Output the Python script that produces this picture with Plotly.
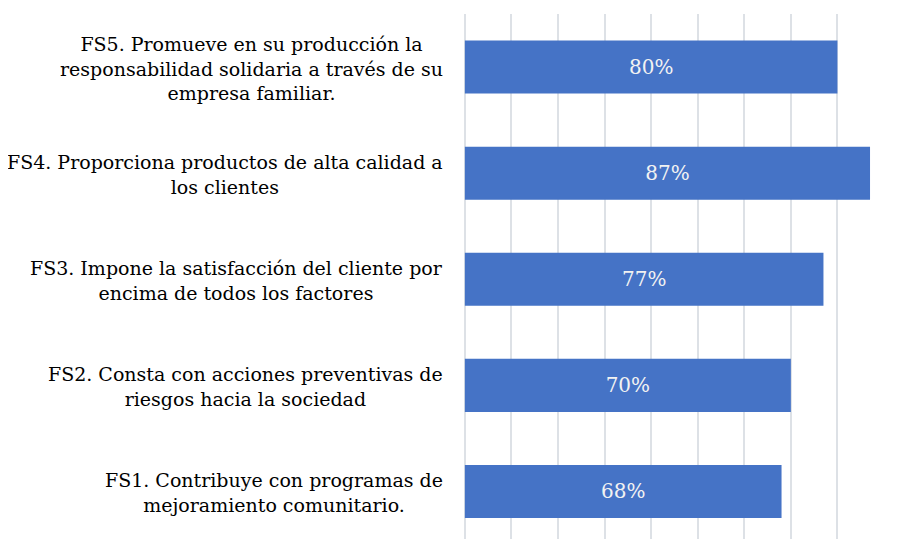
import plotly.graph_objects as go

categories = ["FS1", "FS2", "FS3", "FS4", "FS5"]
values = [0.68, 0.70, 0.77, 0.87, 0.80]
labels = [
    "FS1. Contribuye con programas de<br>mejoramiento comunitario.",
    "FS2. Consta con acciones preventivas de<br>riesgos hacia la sociedad",
    "FS3. Impone la satisfacción del cliente por<br>encima de todos los factores",
    "FS4. Proporciona productos de alta calidad a<br>los clientes",
    "FS5. Promueve en su producción la<br>responsabilidad solidaria a través de su<br>empresa familiar.",
]
value_text = [f"{round(v*100)}%" for v in values]

FONT = "DejaVu Serif"

fig = go.Figure()
fig.add_trace(go.Bar(
    y=categories, x=values, orientation="h",
    width=0.5,
    marker=dict(color="#4573C6", line=dict(width=0)),
    text=value_text, textposition="inside", insidetextanchor="middle",
    textfont=dict(family=FONT, size=20, color="#F2F2F2"),
    hoverinfo="skip",
))

for cat, lab in zip(categories, labels):
    fig.add_annotation(
        x=0, xref="paper", y=cat, yref="y",
        text=lab, showarrow=False, xanchor="right", yanchor="middle",
        align="center", xshift=-18, yshift=-1,
        font=dict(family=FONT, size=19, color="#000000"),
    )

fig.update_layout(
    width=912, height=531,
    font=dict(family=FONT),
    margin=dict(l=455, r=36, t=6, b=0),
    paper_bgcolor="white", plot_bgcolor="white",
    showlegend=False,
    xaxis=dict(range=[-0.004, 0.9], tick0=0, dtick=0.1, showticklabels=False,
               showgrid=True, gridcolor="#DDE1E6", gridwidth=1.5,
               zeroline=False, showline=False, ticks=""),
    yaxis=dict(range=[-0.448, 4.5], showticklabels=False, showgrid=False,
               zeroline=False, showline=False, ticks=""),
)

fig.write_html("out.html")
